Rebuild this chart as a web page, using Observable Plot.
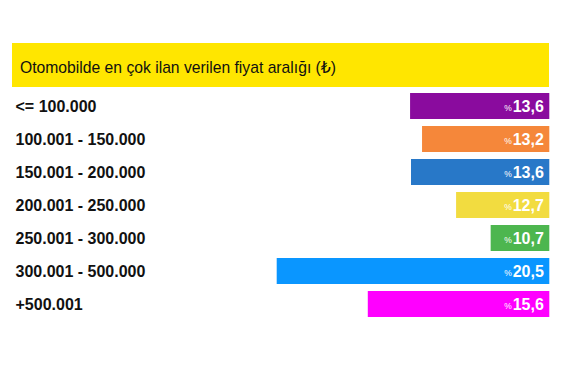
<!DOCTYPE html>
<html>
<head>
<meta charset="utf-8">
<script src="https://cdn.jsdelivr.net/npm/d3@7"></script>
<script src="https://cdn.jsdelivr.net/npm/@observablehq/plot@0.6"></script>
<style>
  html, body { margin: 0; padding: 0; background: #fff; }
  body { width: 563px; height: 365px; position: relative; overflow: hidden;
         font-family: "Liberation Sans", Arial, Helvetica, "DejaVu Sans", sans-serif; }
  #title { position: absolute; left: 12px; top: 43px; width: 537px; height: 44px;
           background: #FFE600; box-sizing: border-box; padding-left: 8px; padding-top: 4px;
           display: flex; align-items: center; font-size: 15.7px; color: #111; }
  #chart { position: absolute; left: 0; top: 87px; }
</style>
</head>
<body>
<div id="title">Otomobilde en çok ilan verilen fiyat aralığı (₺)</div>
<div id="chart"></div>
<script>
const categories = ["<= 100.000", "100.001 - 150.000", "150.001 - 200.000", "200.001 - 250.000", "250.001 - 300.000", "300.001 - 500.000", "+500.001"];
const labels = ["13,6", "13,2", "13,6", "12,7", "10,7", "20,5", "15,6"];
// bar lengths as drawn in the reference (in % units, not proportional to the labels)
const barLengths = [10.47, 9.57, 10.4, 7.01, 4.41, 20.5, 13.65];
const colors = ["#8A0B9E", "#F5873A", "#2878C8", "#F2DC40", "#4DB64F", "#0A96FF", "#FF00FF"];

const data = categories.map((c, i) => ({cat: c, len: barLengths[i], label: labels[i], color: colors[i]}));

const chart = Plot.plot({
  width: 563,
  height: 278,
  marginLeft: 15,
  marginRight: 14,
  marginTop: 0,
  marginBottom: 0,
  style: {fontFamily: '"Liberation Sans", Arial, Helvetica, sans-serif', background: "transparent"},
  x: {domain: [0, 20.5], range: [549.3, 276.7], axis: null},
  y: {domain: categories, range: [0.95, 235.45], paddingInner: 0.2, paddingOuter: 0.1, align: 0.5, axis: null},
  marks: [
    Plot.barX(data, {x1: 0, x2: "len", y: "cat", fill: "color"}),
    Plot.text(data, {y: "cat", text: "cat", frameAnchor: "left", textAnchor: "start", fontSize: 16, fontWeight: "bold", fill: "#111"}),
    Plot.text(data, {x: 0, y: "cat", text: "label", textAnchor: "end", dx: -6, fontSize: 16, fontWeight: "bold", fill: "white"}),
    Plot.text(data, {x: 0, y: "cat", text: () => "%", textAnchor: "end", dx: -38, dy: 1.5, fontSize: 8.5, fill: "white"})
  ]
});
document.getElementById("chart").appendChild(chart);
</script>
</body>
</html>
